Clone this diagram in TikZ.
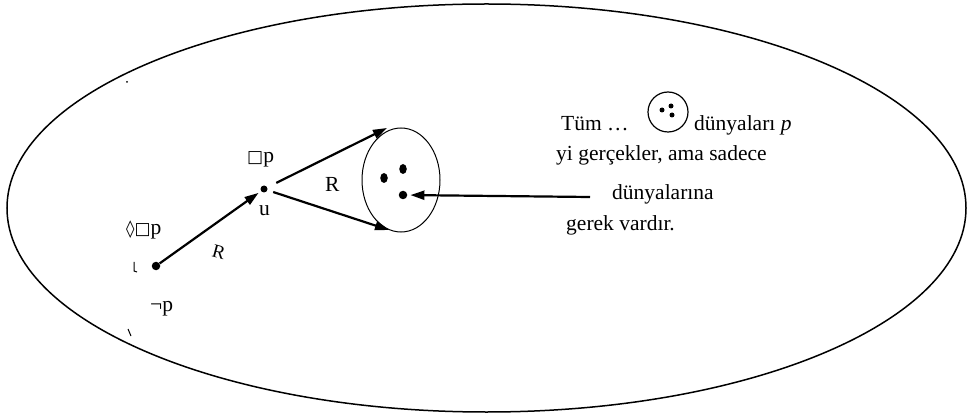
\documentclass[tikz,border=0pt]{standalone}
\usepackage{fontspec}
\setmainfont{Liberation Serif}
\newfontfamily\symfont{DejaVu Sans}
\usetikzlibrary{arrows.meta,shapes.geometric}
\begin{document}
\begin{tikzpicture}[x=1pt,y=-1pt,
  dotn/.style={circle,fill,inner sep=0pt,minimum size=8.5pt},
  ovdot/.style={ellipse,fill,inner sep=0pt,minimum width=7.5pt,minimum height=10pt},
  smalldot/.style={circle,fill,inner sep=0pt,minimum size=5pt},
  lbl/.style={inner sep=0pt,anchor=base west,font=\fontsize{21.5}{24}\selectfont},
  arr/.style={line width=2.2pt,-{Triangle[length=14pt,width=9pt]}}
]
\useasboundingbox (0,0) rectangle (972,414);
% big ellipse
\draw[line width=1.5pt] (486.5,208) ellipse [x radius=479.5, y radius=204];
% small ellipse
\draw[line width=1pt] (401,180) ellipse [x radius=39, y radius=52];
% points
\node[dotn] (w) at (156,266) {};
\node[dotn,minimum size=7pt] (u) at (264,189) {};
\node[ovdot] (d1) at (403,169) {};
\node[ovdot] (d2) at (384,178) {};
\node[dotn] (d3) at (403,195) {};
\coordinate (e1) at (387,128);
\coordinate (e2) at (389,230);
\coordinate (src) at (590,197);
% arrows
\draw[arr,shorten >=3pt] (w) -- (u);
\draw[arr,shorten <=10pt] (u) -- (e1);
\draw[arr,shorten <=6pt] (u) -- (e2);
\draw[arr,shorten >=3pt] (src) -- (d3);
% labels
\node[lbl] (ldp) at (126,235) {{\symfont\fontsize{17}{20}\selectfont ◊□}p};
\node[lbl] (lbp) at (247,163) {{\symfont\fontsize{17}{20}\selectfont □}p};
\node[lbl] (lnp) at (150,311) {¬p};
\node[lbl,font=\fontsize{19}{20}\selectfont,rotate=-15] (lr1) at (211,256) {R};
\node[lbl] (lr2) at (325,192) {R};
\node[lbl] (lu) at (259,216) {u};
% stray marks
\draw[line width=1pt] (134,262) -- (134,271) -- (137,272);
\draw[line width=1pt] (128,329) -- (131,336);
\fill (127,82) circle (1pt);
% text block
\node[lbl] (ta) at (561,131) {Tüm …};
\draw[line width=1.2pt] (668,112) circle (20);
\node[smalldot] (c1) at (662,110) {};
\node[smalldot] (c2) at (671,106) {};
\node[smalldot] (c3) at (672,115) {};
\node[lbl] (tb) at (694,131) {dünyaları \textit{p}};
\node[lbl] (tc) at (556,161) {yi  gerçekler, ama sadece};
\node[lbl] (td) at (612,200) {dünyalarına};
\node[lbl] (te) at (566,231) {gerek vardır.};
\end{tikzpicture}
\end{document}
